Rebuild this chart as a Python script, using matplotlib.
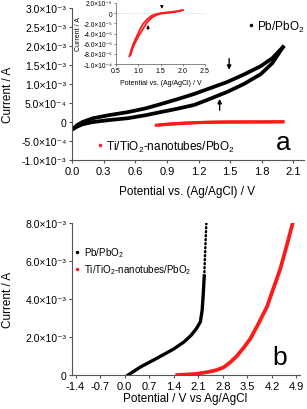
import matplotlib
matplotlib.use('Agg')
import matplotlib.pyplot as plt
from matplotlib.lines import Line2D
import numpy as np

plt.rcParams['font.family'] = ['Liberation Sans', 'DejaVu Sans']
plt.rcParams['mathtext.fontset'] = 'custom'
plt.rcParams['mathtext.rm'] = 'Liberation Sans'

### Data
# (a) cyclic voltammogram, Pb/PbO2 (currents in mA -> scaled below)
pb_v = [0.0, 0.05, 0.1, 0.2, 0.35, 0.53, 0.7, 0.84, 1.0, 1.16, 1.3, 1.47, 1.63, 1.79, 1.9, 2.0]
pb_i_fwd = [-0.2, -0.08, 0.0, 0.1, 0.18, 0.26, 0.36, 0.47, 0.6, 0.74, 0.88, 1.05, 1.25, 1.47, 1.68, 1.97]
pb_i_rev = [-0.2, -0.12, -0.06, 0.0, 0.05, 0.1, 0.18, 0.26, 0.35, 0.45, 0.6, 0.79, 1.0, 1.26, 1.55, 1.97]

# (a) Ti/TiO2-nanotubes/PbO2 loop (currents in 1e-5 A)
ti_v_out = [0.8, 0.85, 0.9, 0.97, 1.05, 1.1, 1.2, 1.3, 1.4, 1.5, 1.6, 1.7, 1.8, 1.9, 2.0]
ti_i_out = [-8.5, -7.0, -5.8, -4.5, -3.0, -2.2, -1.2, -0.5, -0.2, 0.0, 0.1, 0.2, 0.3, 0.45, 0.6]
ti_v_in = [0.83, 0.87, 0.93, 1.0, 1.05, 1.12, 1.2, 1.3, 1.4, 1.5, 1.6, 1.7, 1.8, 1.9, 2.0]
ti_i_in = [-8.2, -7.0, -5.8, -4.6, -3.9, -2.9, -1.8, -0.9, -0.4, -0.1, 0.0, 0.1, 0.2, 0.35, 0.6]

# (b) linear sweeps (currents in mA)
lsv_pb_v = [0.1, 0.45, 0.9, 1.4, 1.7, 1.9, 2.05, 2.16, 2.21, 2.24, 2.27, 2.29, 2.31, 2.33]
lsv_pb_i = [0.0, 0.42, 0.86, 1.37, 1.75, 2.1, 2.45, 2.8, 3.4, 4.2, 5.2, 6.2, 7.1, 8.0]
lsv_ti_v = [1.5, 2.0, 2.36, 2.6, 2.82, 3.0, 3.2, 3.4, 3.58, 3.8, 4.06, 4.25, 4.44, 4.62, 4.8]
lsv_ti_i = [0.0, 0.05, 0.15, 0.25, 0.4, 0.65, 1.0, 1.45, 1.9, 2.65, 3.6, 4.6, 5.6, 6.8, 8.05]

top_yticks = [3.0e-3, 2.5e-3, 2.0e-3, 1.5e-3, 1.0e-3, 5.0e-4, 0, -5.0e-4, -1.0e-3]
top_ylabels = ['3.0×10⁻³', '2.5×10⁻³', '2.0×10⁻³', '1.5×10⁻³', '1.0×10⁻³',
               '5.0×10⁻⁴', '0', '-5.0×10⁻⁴', '-1.0×10⁻³']
top_xticks = [0.0, 0.3, 0.6, 0.9, 1.2, 1.5, 1.8, 2.1]
ins_yticks = [2.0e-5, 0, -2.0e-5, -4.0e-5, -6.0e-5, -8.0e-5, -1.0e-4]
ins_ylabels = ['2.0×10⁻⁵', '0', '-2.0×10⁻⁵', '-4.0×10⁻⁵', '-6.0×10⁻⁵', '-8.0×10⁻⁵', '-1.0×10⁻⁴']
ins_xticks = [0.5, 1.0, 1.5, 2.0, 2.5]
bot_yticks = [0, 2.0e-3, 4.0e-3, 6.0e-3, 8.0e-3]
bot_ylabels = ['0', '2.0×10⁻³', '4.0×10⁻³', '6.0×10⁻³', '8.0×10⁻³']
bot_xticks = [-1.4, -0.7, 0.0, 0.7, 1.4, 2.1, 2.8, 3.5, 4.2, 4.9]

pb_v = np.array(pb_v)
pb_i_fwd = np.array(pb_i_fwd) * 1e-3
pb_i_rev = np.array(pb_i_rev) * 1e-3
ti_i_out = np.array(ti_i_out) * 1e-5
ti_i_in = np.array(ti_i_in) * 1e-5
lsv_pb_i = np.array(lsv_pb_i) * 1e-3
lsv_ti_i = np.array(lsv_ti_i) * 1e-3

spine_col = '#555555'
red = '#ff1a1a'


def style_axes(ax, xsize, ysize):
    for s in ['top', 'right']:
        ax.spines[s].set_visible(False)
    for s in ['left', 'bottom']:
        ax.spines[s].set_color(spine_col)
        ax.spines[s].set_linewidth(0.8)
    ax.tick_params(direction='out', length=2.5, width=0.8, color=spine_col, pad=1.5)
    ax.tick_params(axis='x', labelsize=xsize)
    ax.tick_params(axis='y', labelsize=ysize)


fig = plt.figure(figsize=(3.07, 4.10), dpi=100)

### Panel a
ax1 = fig.add_axes([72/307, 1-161/410, 232/307, 152/410])
ax1.plot(pb_v, pb_i_fwd, color='k', lw=2.7)
ax1.plot(pb_v, pb_i_rev, color='k', lw=2.7)
ax1.plot(ti_v_out, ti_i_out, color=red, lw=2.2)
ax1.plot(ti_v_in, ti_i_in, color=red, lw=2.2)
ax1.set_xlim(0, 2.2)
ax1.set_ylim(-1.0e-3, 3.0e-3)
ax1.set_xticks(top_xticks)
ax1.set_xticklabels(['%.1f' % t for t in top_xticks])
ax1.set_yticks(top_yticks)
ax1.set_yticklabels(top_ylabels)
style_axes(ax1, 8, 7.5)
fig.text(187/307, 1-192/410, 'Potential vs. (Ag/AgCl) / V', fontsize=8.5, ha='center', va='center')
fig.text(8/307, 1-95/410, 'Current / A', fontsize=8.5, rotation=90, ha='center', va='center')
ax1.annotate('', xy=(1.49, 1.30e-3), xytext=(1.49, 1.74e-3),
             arrowprops=dict(arrowstyle='-|>', color='k', lw=1.0, mutation_scale=6))
ax1.annotate('', xy=(1.40, 0.68e-3), xytext=(1.40, 0.24e-3),
             arrowprops=dict(arrowstyle='-|>', color='k', lw=1.0, mutation_scale=6))
ax1.text(0.91, 0.12, 'a', transform=ax1.transAxes, fontsize=19, ha='center', va='center')

h_pb = Line2D([], [], ls='none', marker='o', ms=1.5, color='k')
h_ti = Line2D([], [], ls='none', marker='o', ms=1.5, color=red)
leg1 = ax1.legend([h_pb], ['Pb/PbO$_2$'], loc='center left', bbox_to_anchor=(248/307, 1-27/410),
                  bbox_transform=fig.transFigure, frameon=False, fontsize=8.5,
                  handlelength=0.5, handletextpad=0.25, borderpad=0, borderaxespad=0)
ax1.legend([h_ti], ['Ti/TiO$_2$-nanotubes/PbO$_2$'], loc='center left',
           bbox_to_anchor=(97/307, 1-147/410), bbox_transform=fig.transFigure,
           frameon=False, fontsize=8.5, handlelength=0.5, handletextpad=0.3,
           borderpad=0, borderaxespad=0)
ax1.add_artist(leg1)

### Inset
axin = fig.add_axes([116/307, 1-65/410, 89/307, 61/410])
axin.axhline(0, color='#bbbbbb', lw=0.5, ls=':')
axin.plot(ti_v_out, ti_i_out, color=red, lw=1.3)
axin.plot(ti_v_in, ti_i_in, color=red, lw=1.3)
axin.set_xlim(0.5, 2.5)
axin.set_ylim(-1.0e-4, 2.0e-5)
axin.set_xticks(ins_xticks)
axin.set_xticklabels(['%.1f' % t for t in ins_xticks])
axin.set_yticks(ins_yticks)
axin.set_yticklabels(ins_ylabels)
style_axes(axin, 5, 4.8)
axin.tick_params(length=1.5, width=0.5, pad=1)
axin.spines['left'].set_linewidth(0.5)
axin.spines['bottom'].set_linewidth(0.5)
axin.set_xlabel('Potential vs. (Ag/AgCl) / V', fontsize=5, labelpad=3)
axin.set_ylabel('Current / A', fontsize=5, labelpad=1)
axin.annotate('', xy=(1.53, 0.3e-5), xytext=(1.53, 2.0e-5),
              arrowprops=dict(arrowstyle='-|>', color='k', lw=0.7, mutation_scale=4))
axin.annotate('', xy=(1.22, -1.8e-5), xytext=(1.22, -3.8e-5),
              arrowprops=dict(arrowstyle='-|>', color='k', lw=0.7, mutation_scale=4))

### Panel b
ax2 = fig.add_axes([72/307, 1-376/410, 228/307, 152/410])
n_solid = 11
ax2.plot(lsv_pb_v[:n_solid], lsv_pb_i[:n_solid], color='k', lw=2.4)
ax2.plot(lsv_pb_v[n_solid-1:], lsv_pb_i[n_solid-1:], color='k', lw=1.8,
         ls=(0, (0.4, 1.2)), dash_capstyle='round')
ax2.plot(lsv_ti_v, lsv_ti_i, color=red, lw=2.7)
ax2.set_xlim(-1.5, 5.0)
ax2.set_ylim(0, 8.0e-3)
ax2.set_xticks(bot_xticks)
ax2.set_xticklabels(['%.1f' % t for t in bot_xticks])
ax2.set_yticks(bot_yticks)
ax2.set_yticklabels(bot_ylabels)
style_axes(ax2, 8, 7.5)
fig.text(185/307, 1-399/410, 'Potential / V vs Ag/AgCl', fontsize=8.5, ha='center', va='center')
fig.text(8/307, 1-300/410, 'Current / A', fontsize=8.5, rotation=90, ha='center', va='center')
ax2.text(0.91, 0.12, 'b', transform=ax2.transAxes, fontsize=19, ha='center', va='center')
ax2.legend([h_pb, h_ti], ['Pb/PbO$_2$', 'Ti/TiO$_2$-nanotubes/PbO$_2$'], loc='upper left',
           bbox_to_anchor=(75/307, 1-246/410), bbox_transform=fig.transFigure,
           frameon=False, fontsize=7, handlelength=0.5, handletextpad=0.4,
           borderpad=0, borderaxespad=0, labelspacing=0.35)

plt.savefig('out.png', dpi=100)
